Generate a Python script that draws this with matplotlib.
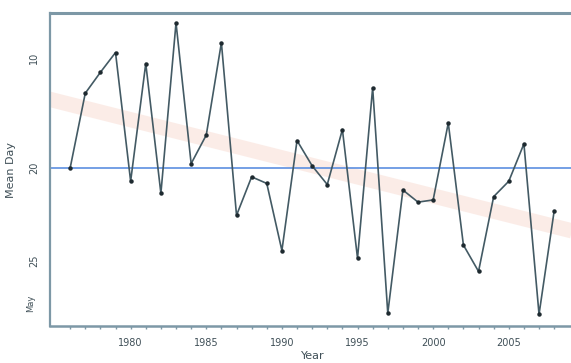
"""Mean arrival day by year, with trend band and long-term mean line."""
import numpy as np
import matplotlib
matplotlib.use('Agg')
import matplotlib.pyplot as plt

# data
years = list(range(1976, 2009))
mean_day = [20.0, 13.2, 11.3, 9.5, 21.2, 10.5, 22.3, 6.8, 19.6, 17.0,
            8.6, 24.3, 20.8, 21.4, 27.5, 17.5, 19.8, 21.5, 16.5, 28.2,
            12.7, 33.2, 22.0, 23.1, 22.9, 15.9, 27.0, 29.4, 22.6, 21.2,
            17.8, 33.3, 23.9]
overall_mean = 20.0
trend_years = [1974.5, 2010.0]
trend_vals = [13.7, 26.0]

ytick_vals = [10, 20, 28.4]
ytick_labels = ['10', '20', '25']
major_years = [1980, 1985, 1990, 1995, 2000, 2005]

line_col = '#435a64'
axis_col = '#7d98a6'
text_col = '#3f4f57'

fig = plt.figure(figsize=(5.71, 3.63), dpi=100)
ax = fig.add_axes([0.0876, 0.102, 0.92, 0.862])

# faint trend band
ax.plot(trend_years, trend_vals, color='#f3c2b2', linewidth=11, alpha=0.3,
        solid_capstyle='butt', zorder=1)
# long-term mean
ax.axhline(overall_mean, color='#5c8fe0', linewidth=1.2, zorder=2)
# yearly series
ax.plot(years, mean_day, color=line_col, linewidth=1.2, zorder=3)
ax.plot(years, mean_day, linestyle='none', marker='o', markersize=2.2,
        color='#1e2a30', zorder=4)

ax.set_xlim(1974.67, 2009.4)
ax.set_ylim(34.36, 5.91)

ax.set_xticks(major_years)
ax.set_xticklabels([str(y) for y in major_years], fontsize=7, color=text_col)
ax.set_xticks(years, minor=True)
ax.tick_params(axis='x', which='both', direction='out', length=2.5,
               color=axis_col, width=1, pad=6)

ax.set_yticks(ytick_vals)
ax.set_yticklabels(ytick_labels, fontsize=7, color=text_col, rotation=90,
                   va='center')
ax.tick_params(axis='y', length=0, pad=8)

for side in ['top', 'left', 'bottom']:
    ax.spines[side].set_color(axis_col)
ax.spines['top'].set_linewidth(2.2)
ax.spines['left'].set_linewidth(1.6)
ax.spines['bottom'].set_linewidth(1.8)
ax.spines['right'].set_visible(False)

ax.set_xlabel('Year', fontsize=8, color=text_col, labelpad=2)
ax.set_ylabel('Mean Day', fontsize=8, color=text_col, labelpad=9)
fig.text(0.053, 1 - 303 / 363, 'May', rotation=90, fontsize=6, color=text_col,
         ha='center', va='center')

fig.savefig('out.png', dpi=100)
